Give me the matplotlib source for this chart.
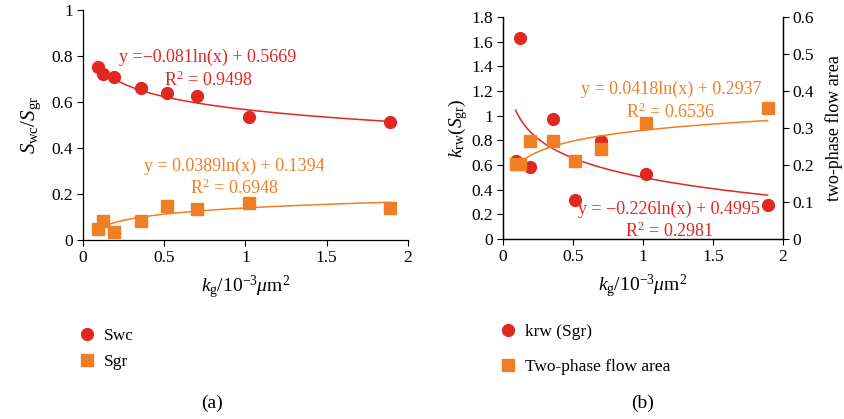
import numpy as np
import matplotlib
matplotlib.use("Agg")
import matplotlib.pyplot as plt
from matplotlib.ticker import FuncFormatter

plt.rcParams['font.family'] = ['Liberation Serif', 'DejaVu Serif']
plt.rcParams['mathtext.fontset'] = 'custom'
plt.rcParams['mathtext.rm'] = 'Liberation Serif'
plt.rcParams['mathtext.it'] = 'Liberation Serif:italic'
plt.rcParams['font.size'] = 12

RED = '#e0281f'
ORANGE = '#ef7f24'

# permeability kg (10^-3 um^2)
kg = [0.09, 0.125, 0.19, 0.355, 0.515, 0.70, 1.02, 1.89]

# panel (a)
swc = [0.754, 0.722, 0.707, 0.661, 0.641, 0.626, 0.533, 0.512]
sgr = [0.046, 0.083, 0.033, 0.081, 0.148, 0.135, 0.162, 0.141]
swc_fit = (-0.081, 0.5669)
sgr_fit = (0.0389, 0.1394)

# panel (b)
krw = [0.631, 1.632, 0.580, 0.969, 0.316, 0.796, 0.526, 0.273]
area = [0.2015, 0.2015, 0.264, 0.264, 0.212, 0.244, 0.314, 0.353]
krw_fit = (-0.226, 0.4995)
area_fit = (0.0418, 0.2937)

W, H = 845, 419
fig = plt.figure(figsize=(W / 100, H / 100), dpi=100)

def fx(x):
    return x / W

def fy(y):
    return 1 - y / H

fmt = FuncFormatter(lambda v, p: '%g' % round(v, 3))
xs = np.linspace(min(kg), max(kg), 200)
TICK = 12.5
ANN = 13


def style(ax):
    ax.tick_params(direction='out', length=4, width=0.8, labelsize=TICK, pad=3)
    ax.xaxis.set_major_formatter(fmt)
    ax.yaxis.set_major_formatter(fmt)
    for s in ax.spines.values():
        s.set_linewidth(0.9)


# ---- (a)
axa = fig.add_axes([fx(83), fy(240), fx(408 - 83), (240 - 10) / H])
axa.plot(xs, swc_fit[0] * np.log(xs) + swc_fit[1], color=RED, lw=1.1)
axa.plot(xs, sgr_fit[0] * np.log(xs) + sgr_fit[1], color=ORANGE, lw=1.1)
axa.plot(kg, swc, 'o', color=RED, ms=8.5, label='Swc', zorder=3)
axa.plot(kg, sgr, 's', color=ORANGE, ms=8, label='Sgr', zorder=3)
axa.set_xlim(0, 2)
axa.set_ylim(0, 1)
axa.set_xticks([0, 0.5, 1, 1.5, 2])
axa.set_yticks([0, 0.2, 0.4, 0.6, 0.8, 1])
axa.spines['top'].set_visible(False)
axa.spines['right'].set_visible(False)
style(axa)
axa.set_ylabel(r'$S_{\mathrm{wc}}/S_{\mathrm{gr}}$', fontsize=15, labelpad=6)
axa.set_xlabel(r'$k_{\mathrm{g}}/10^{-3}\mu\mathrm{m}^2$', fontsize=14, labelpad=6)
axa.text(0.77, 0.742, 'y =\u22120.081ln(x) + 0.5669\nR$^2$ = 0.9498', color=RED,
         ha='center', va='center', fontsize=ANN, linespacing=1.25)
axa.text(0.93, 0.27, 'y = 0.0389ln(x) + 0.1394\nR$^2$ = 0.6948', color=ORANGE,
         ha='center', va='center', fontsize=ANN, linespacing=1.25)
fig.legend(*axa.get_legend_handles_labels(), loc='upper left',
           bbox_to_anchor=(fx(64), fy(312)), frameon=False, fontsize=12.5,
           handlelength=0.8, handletextpad=0.6, labelspacing=0.6)
fig.text(fx(212), fy(403), '(a)', ha='center', va='center', fontsize=14)

# ---- (b)
axb = fig.add_axes([fx(503), fy(239), fx(783 - 503), (239 - 17) / H])
axr = axb.twinx()
axb.plot(xs, krw_fit[0] * np.log(xs) + krw_fit[1], color=RED, lw=1.1)
axr.plot(xs, area_fit[0] * np.log(xs) + area_fit[1], color=ORANGE, lw=1.1)
axb.plot(kg, krw, 'o', color=RED, ms=8.5, label='krw (Sgr)', zorder=3)
axr.plot(kg, area, 's', color=ORANGE, ms=8, label='Two-phase flow area', zorder=3)
axb.set_xlim(0, 2)
axb.set_ylim(0, 1.8)
axr.set_ylim(0, 0.6)
axb.set_xticks([0, 0.5, 1, 1.5, 2])
axb.set_yticks(np.arange(0, 1.81, 0.2))
axr.set_yticks(np.arange(0, 0.61, 0.1))
axb.spines['top'].set_visible(False)
axr.spines['top'].set_visible(False)
style(axb)
style(axr)
axb.set_ylabel(r'$k_{\mathrm{rw}}(S_{\mathrm{gr}})$', fontsize=14, labelpad=1)
axr.set_ylabel('two-phase flow area', fontsize=13, labelpad=8)
axb.set_xlabel(r'$k_{\mathrm{g}}/10^{-3}\mu\mathrm{m}^2$', fontsize=14, labelpad=6)
axr.text(1.2, 0.372, 'y = 0.0418ln(x) + 0.2937\nR$^2$ = 0.6536', color=ORANGE,
         ha='center', va='center', fontsize=ANN, linespacing=1.25)
axb.text(1.185, 0.148, 'y = \u22120.226ln(x) + 0.4995\nR$^2$ = 0.2981', color=RED,
         ha='center', va='center', fontsize=ANN, linespacing=1.25)
hb, lb = axb.get_legend_handles_labels()
hr, lr = axr.get_legend_handles_labels()
fig.legend(hb + hr, lb + lr, loc='upper left',
           bbox_to_anchor=(fx(485), fy(308)), frameon=False, fontsize=12.5,
           handlelength=0.8, handletextpad=0.6, labelspacing=1.1)
fig.text(fx(643), fy(403), '(b)', ha='center', va='center', fontsize=14)

fig.savefig('out.png', dpi=100)
